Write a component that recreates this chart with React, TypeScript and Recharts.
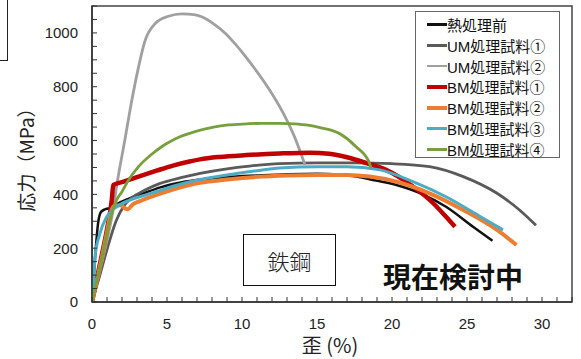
import React from 'react';
import { LineChart, Line, XAxis, YAxis, ReferenceArea, Legend } from 'recharts';

// ---------------------------------------------------------------------------
// Data (strain % vs stress MPa)
// ---------------------------------------------------------------------------
const heatX = [0, 0.2, 0.4, 0.6, 0.9, 1.3, 1.7, 2.5, 3.5, 4.5, 6, 7.2, 9, 11, 13, 15, 16.5, 17.5, 18.5, 20.3, 21.9, 23.6, 25.4, 26.7];
const heatY = [0, 160, 290, 335, 345, 350, 365, 385, 405, 425, 445, 455, 464, 470, 475, 477, 474, 467, 456, 435, 404, 354, 280, 228];

const um1X = [0, 0.5, 1, 1.6, 2.1, 2.6, 3.5, 4.5, 6, 7.2, 9, 10.5, 12.5, 15, 17.5, 20, 22.5, 24.75, 27, 28.5, 29.6];
const um1Y = [0, 95, 195, 300, 355, 385, 415, 440, 463, 478, 495, 505, 514, 517, 517, 514, 503, 466, 404, 342, 285];

const um2X = [0, 0.5, 1, 1.4, 1.64, 2.2, 2.64, 3.09, 3.53, 4.2, 5.09, 6.0, 6.8, 7.31, 8.2, 8.9, 9.53, 10.2, 10.87, 11.98, 12.87, 13.53, 14.2];
const um2Y = [0, 110, 230, 340, 430, 605, 745, 870, 970, 1034, 1062, 1071, 1068, 1060, 1030, 998, 960, 915, 866, 776, 689, 610, 509];

const bm1X = [0, 0.6, 1.0, 1.32, 1.42, 2.1, 3.2, 4.3, 5.4, 6.5, 7.2, 8.5, 10.3, 12.5, 14.5, 15.8, 17, 18.3, 19.6, 21.4, 22.75, 23.6, 24.2];
const bm1Y = [0, 160, 270, 380, 435, 447, 468, 488, 507, 522, 530, 539, 546, 552, 555, 551, 538, 516, 491, 429, 367, 317, 280];

const bm2X = [0, 0.6, 1.0, 1.3, 1.45, 1.9, 2.2, 2.4, 2.7, 3.2, 4.3, 5.4, 6.5, 7.2, 9, 11, 13, 15, 17, 18.5, 20.3, 22.5, 24.75, 27, 28.3];
const bm2Y = [0, 150, 260, 340, 355, 360, 348, 345, 362, 375, 398, 418, 435, 443, 455, 465, 470, 472, 472, 466, 447, 404, 342, 268, 212];

const bm3X = [0, 0.1, 0.2, 0.53, 0.98, 1.64, 2.53, 3.4, 4.31, 5.4, 6.53, 7.2, 9, 11, 12.5, 15, 17, 19.2, 21.4, 23.6, 25.9, 27.4];
const bm3Y = [0, 70, 168, 255, 317, 354, 379, 395, 410, 430, 447, 455, 472, 488, 498, 503, 503, 491, 447, 391, 317, 268];

const bm4X = [0, 0.6, 1.2, 1.64, 2.0, 2.4, 3.1, 4.0, 4.64, 5.5, 6.87, 8.1, 9.09, 10.3, 11.3, 12.5, 13.5, 14.4, 15.2, 16.5, 17.6, 18.5, 18.6];
const bm4Y = [0, 150, 305, 379, 410, 450, 503, 550, 577, 605, 633, 650, 658, 662, 664, 664, 662, 657, 648, 626, 577, 516, 497];

const X_TICKS = [0, 1, 2, 3, 4, 5, 6, 7, 8, 9, 10, 11, 12, 13, 14, 15, 16, 17, 18, 19, 20, 21, 22, 23, 24, 25, 26, 27, 28, 29, 30, 31, 32];
const Y_TICKS = [0, 50, 100, 150, 200, 250, 300, 350, 400, 450, 500, 550, 600, 650, 700, 750, 800, 850, 900, 950, 1000, 1050, 1100];

const zip = (xs: number[], ys: number[]) => xs.map((x, i) => ({ x, y: ys[i] }));

const SERIES = [
  { name: '熱処理前', data: zip(heatX, heatY), color: '#111111', width: 2.5 },
  { name: 'UM処理試料①', data: zip(um1X, um1Y), color: '#5a5a5a', width: 2.8 },
  { name: 'UM処理試料②', data: zip(um2X, um2Y), color: '#a0a0a0', width: 2.8 },
  { name: 'BM処理試料①', data: zip(bm1X, bm1Y), color: '#c00000', width: 4.5 },
  { name: 'BM処理試料②', data: zip(bm2X, bm2Y), color: '#ed7d31', width: 4 },
  { name: 'BM処理試料③', data: zip(bm3X, bm3Y), color: '#4bacc6', width: 3 },
  { name: 'BM処理試料④', data: zip(bm4X, bm4Y), color: '#77a03c', width: 2.8 },
];

const JP = "'Noto Sans CJK JP', sans-serif";
const LATIN = "'Liberation Sans', 'Noto Sans CJK JP', sans-serif";
const AXIS = '#333333';

function LegendBox() {
  return (
    <div
      style={{
        border: '1px solid #666',
        background: '#fff',
        padding: '2px 0 0 11px',
        boxSizing: 'border-box',
        width: 145,
        height: 147,
        fontFamily: LATIN,
        fontSize: 15,
        color: '#111',
      }}
    >
      {SERIES.map((s) => (
        <div key={s.name} style={{ display: 'flex', alignItems: 'center', height: 20.8 }}>
          <span style={{ display: 'inline-block', width: 20, height: s.width, background: s.color }} />
          <span style={{ whiteSpace: 'nowrap' }}>{s.name}</span>
        </div>
      ))}
    </div>
  );
}

export default function App() {
  return (
    <div style={{ position: 'absolute', left: 0, top: 0, width: 581, height: 359, background: '#fff', fontFamily: LATIN }}>
      <LineChart width={581} height={359} margin={{ top: 6, right: 9, left: 0, bottom: 0 }}>
        <XAxis
          type="number"
          dataKey="x"
          domain={[0, 32]}
          ticks={X_TICKS}
          interval={0}
          allowDataOverflow
          height={57}
          tickSize={-5}
          tickMargin={21}
          tickFormatter={(v: number) => (v % 5 === 0 && v <= 30 ? String(v) : '')}
          tick={{ fill: '#222', fontSize: 15 }}
          axisLine={{ stroke: AXIS, strokeWidth: 1.5 }}
          tickLine={{ stroke: AXIS }}
        />
        <YAxis
          type="number"
          domain={[0, 1100]}
          ticks={Y_TICKS}
          interval={0}
          allowDataOverflow
          width={92}
          tickSize={-5}
          tickMargin={19}
          tickFormatter={(v: number) => (v % 200 === 0 && v <= 1000 ? String(v) : '')}
          tick={{ fill: '#222', fontSize: 15 }}
          axisLine={{ stroke: AXIS, strokeWidth: 1.5 }}
          tickLine={{ stroke: AXIS }}
        />
        <ReferenceArea x1={0} x2={32} y1={0} y2={1100} fill="none" stroke="#444" strokeWidth={1.5} ifOverflow="visible" />
        {SERIES.map((s) => (
          <Line
            key={s.name}
            name={s.name}
            data={s.data}
            dataKey="y"
            type="monotone"
            stroke={s.color}
            strokeWidth={s.width}
            dot={false}
            isAnimationActive={false}
          />
        ))}
        <Legend
          layout="vertical"
          align="center"
          verticalAlign="middle"
          content={() => <LegendBox />}
          wrapperStyle={{ left: 415, top: 11, width: 145, height: 147 }}
        />
      </LineChart>

      {/* corner of a neighbouring frame */}
      <div style={{ position: 'absolute', left: 0, top: 0, width: 7, height: 60, borderRight: '1px solid #222', borderBottom: '1px solid #222' }} />

      {/* axis titles */}
      <div
        style={{
          position: 'absolute',
          left: 25,
          top: 155,
          transform: 'translate(-50%, -50%) rotate(-90deg)',
          whiteSpace: 'nowrap',
          fontFamily: JP,
          fontSize: 19,
          color: '#222',
          lineHeight: 1,
        }}
      >
        応力（MPa）
      </div>
      <div
        style={{
          position: 'absolute',
          left: 330,
          top: 345,
          transform: 'translate(-50%, -50%)',
          whiteSpace: 'nowrap',
          fontFamily: JP,
          fontSize: 20,
          color: '#222',
          lineHeight: 1,
        }}
      >
        歪 (%)
      </div>

      {/* annotations */}
      <div
        style={{
          position: 'absolute',
          left: 243,
          top: 234,
          width: 93,
          height: 52,
          boxSizing: 'border-box',
          border: '1.5px solid #111',
          background: '#fff',
          display: 'flex',
          alignItems: 'center',
          justifyContent: 'center',
          fontFamily: JP,
          fontSize: 22,
          fontWeight: 300,
          color: '#222',
        }}
      >
        鉄鋼
      </div>
      <div
        style={{
          position: 'absolute',
          left: 383,
          top: 261,
          fontFamily: JP,
          fontSize: 28,
          fontWeight: 700,
          lineHeight: '30px',
          color: '#111',
          whiteSpace: 'nowrap',
        }}
      >
        現在検討中
      </div>
    </div>
  );
}
